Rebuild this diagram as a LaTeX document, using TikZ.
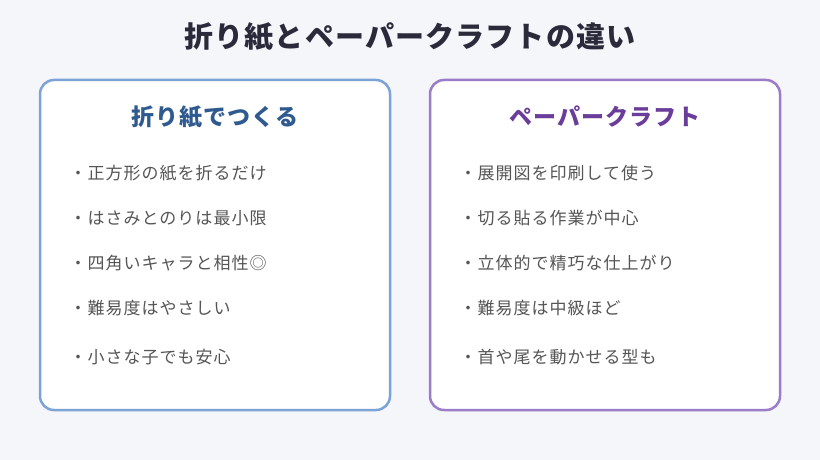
\documentclass[tikz,border=0pt]{standalone}
\usepackage{fontspec}
\setmainfont{Noto Sans CJK JP}
\newfontfamily\itemfont[LetterSpace=6]{Noto Sans CJK JP}
\newfontfamily\headfont[LetterSpace=4]{Noto Sans CJK JP}
\usetikzlibrary{positioning}
\definecolor{bgc}{HTML}{F5F6FA}
\definecolor{titlec}{HTML}{2A2A3A}
\definecolor{blueline}{HTML}{7BA3D6}
\definecolor{bluetext}{HTML}{2F5A8F}
\definecolor{purpleline}{HTML}{9B7CC8}
\definecolor{purpletext}{HTML}{6A3D9A}
\definecolor{itemc}{HTML}{555555}
\tikzset{
	panel/.style={draw=#1, line width=2.5pt, rounded corners=14pt, fill=white},
	head/.style={text=#1, font=\headfont\fontsize{23}{27}\selectfont\bfseries},
	item/.style={text=itemc, font=\itemfont\fontsize{17}{20}\selectfont, anchor=west},
}
\begin{document}
\begin{tikzpicture}[x=1pt, y=-1pt]
			\fill[bgc] (0,0) rectangle (820,460);
			\node[text=titlec, font=\headfont\fontsize{29}{34}\selectfont\bfseries] (title) at (410,37) {折り紙とペーパークラフトの違い};
			
			\draw[panel=blueline] (40,80) rectangle (390,410);
			\draw[panel=purpleline] (430,80) rectangle (780,410);
			\node[head=bluetext] (origami) at (215,117) {折り紙でつくる};
			\node[head=purpletext] (craft) at (605,117) {ペーパークラフト};
			
			\node[item] (o1) at (66,173) {・正方形の紙を折るだけ};
			\node[item] (o2) at (66,218) {・はさみとのりは最小限};
			\node[item] (o3) at (66,263) {・四角いキャラと相性◎};
			\node[item] (o4) at (66,308) {・難易度はやさしい};
			\node[item] (o5) at (66,357) {・小さな子でも安心};
			
			\node[item] (c1) at (456,173) {・展開図を印刷して使う};
			\node[item] (c2) at (456,218) {・切る貼る作業が中心};
			\node[item] (c3) at (456,263) {・立体的で精巧な仕上がり};
			\node[item] (c4) at (456,308) {・難易度は中級ほど};
			\node[item] (c5) at (456,357) {・首や尾を動かせる型も};
\end{tikzpicture}
\end{document}
